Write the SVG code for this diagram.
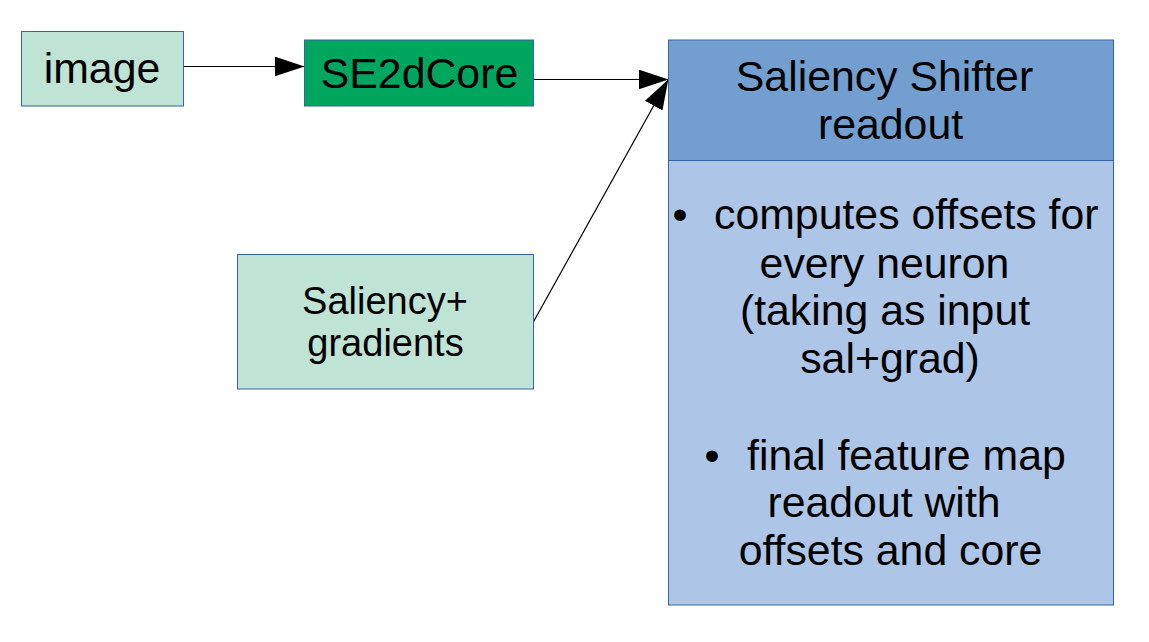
<svg xmlns="http://www.w3.org/2000/svg" width="1149" height="642" viewBox="0 0 1149 642">
<style>
.box{stroke:#3465a4;stroke-width:1}
.t{font-family:"Liberation Sans",Arial,sans-serif;fill:#000}
.big{font-size:42.8px}
.mid{font-size:38px}
.c{text-anchor:middle}
.conn{stroke:#000;stroke-width:1.2;fill:none;marker-end:url(#arr)}
</style>
<defs>
<marker id="arr" markerUnits="userSpaceOnUse" markerWidth="30" markerHeight="20" refX="30" refY="10" orient="auto" viewBox="0 0 30 20">
<path d="M0,0 L30,10 L0,20 z" fill="#000"/>
</marker>
</defs>
<rect width="1149" height="642" fill="#fff"/>
<g id="connectors">
<line class="conn" x1="184" y1="66.5" x2="304.5" y2="66.5"/>
<line class="conn" x1="533.5" y1="79.5" x2="668.5" y2="79.5"/>
<line class="conn" x1="533.5" y1="321.7" x2="668.3" y2="79.5"/>
</g>
<g id="image">
<rect class="box" x="21.5" y="31.5" width="162" height="74.5" fill="#bfe3d4"/>
<text class="t big c" x="102" y="83">image</text>
</g>
<g id="se2dcore">
<rect class="box" x="304.5" y="40" width="229" height="66" fill="#00a65d"/>
<text class="t big c" x="419.5" y="88">SE2dCore</text>
</g>
<g id="saliency">
<rect class="box" x="237.5" y="254.5" width="296" height="134.5" fill="#bfe3d4"/>
<text class="t mid c" x="385" y="314">Saliency+</text>
<text class="t mid c" x="385.5" y="355.7">gradients</text>
</g>
<g id="readout">
<rect class="box" x="668.5" y="160.5" width="445" height="444.5" fill="#adc5e7"/>
<rect class="box" x="668.5" y="40" width="445" height="120.5" fill="#729fcf"/>
<text class="t big c" x="884.5" y="91">Saliency Shifter</text>
<text class="t big c" x="890.5" y="139">readout</text>
<text class="t big" x="672.5" y="229">•</text>
<text class="t big" x="714" y="229">computes offsets for</text>
<text class="t big c" x="884.5" y="277.7">every neuron</text>
<text class="t big c" x="885" y="325">(taking as input</text>
<text class="t big c" x="890" y="372.7">sal+grad)</text>
<text class="t big" x="704.5" y="470">•</text>
<text class="t big" x="747" y="470">final feature map</text>
<text class="t big c" x="884" y="516.7">readout with</text>
<text class="t big c" x="890.5" y="565">offsets and core</text>
</g>
</svg>
